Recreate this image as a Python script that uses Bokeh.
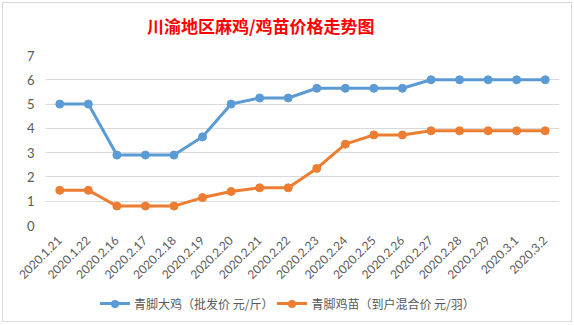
from bokeh.plotting import figure
from bokeh.models import ColumnDataSource, Div
from bokeh.layouts import column
from bokeh.embed import file_html
from bokeh.resources import INLINE
import math

dates = ["2020.1.21", "2020.1.22", "2020.2.16", "2020.2.17", "2020.2.18", "2020.2.19",
         "2020.2.20", "2020.2.21", "2020.2.22", "2020.2.23", "2020.2.24", "2020.2.25",
         "2020.2.26", "2020.2.27", "2020.2.28", "2020.2.29", "2020.3.1", "2020.3.2"]
big_chicken = [5.0, 5.0, 2.9, 2.9, 2.9, 3.65, 5.0, 5.25, 5.25, 5.65, 5.65, 5.65,
               5.65, 6.0, 6.0, 6.0, 6.0, 6.0]
chick = [1.45, 1.45, 0.8, 0.8, 0.8, 1.15, 1.4, 1.55, 1.55, 2.35, 3.35, 3.73,
         3.73, 3.9, 3.9, 3.9, 3.9, 3.9]
name1 = "青脚大鸡（批发价 元/斤）"
name2 = "青脚鸡苗（到户混合价 元/羽）"
title = "川渝地区麻鸡/鸡苗价格走势图"

BLUE = "#5B9BD5"
ORANGE = "#ED7D31"
GRAY = "#595959"

src = ColumnDataSource(dict(x=dates, a=big_chicken, b=chick))

head = Div(text=(f'<div style="padding-left:144px;padding-top:11px;line-height:24px;white-space:nowrap;'
                 f'color:#FF0000;font-family:\'Noto Sans CJK SC\';font-weight:bold;font-size:17px">{title}</div>'),
           width=568, height=40, margin=0)

p = figure(x_range=dates, y_range=(0, 7), width=568, height=245,
           output_backend="svg", toolbar_location=None,
           min_border_left=42, min_border_right=12, min_border_top=12, min_border_bottom=63)

p.outline_line_color = None
p.xgrid.grid_line_color = None
p.ygrid.grid_line_color = "#D9D9D9"
p.ygrid.grid_line_width = 1
p.yaxis.ticker = [0, 1, 2, 3, 4, 5, 6, 7]

for ax in (p.xaxis, p.yaxis):
    ax.axis_line_color = None
    ax.major_tick_line_color = None
    ax.minor_tick_line_color = None
    ax.major_label_text_color = GRAY
    ax.major_label_text_font = "Lato"
    ax.major_label_text_font_size = "12px"
p.yaxis.major_label_text_font_size = "13px"
p.xaxis.major_label_orientation = math.pi / 4
p.xaxis.major_label_standoff = 7
p.yaxis.major_label_standoff = 5

p.line("x", "a", source=src, color=BLUE, line_width=3)
p.scatter("x", "a", source=src, color=BLUE, size=8)
p.line("x", "b", source=src, color=ORANGE, line_width=3)
p.scatter("x", "b", source=src, color=ORANGE, size=8)

def key(color, label):
    return (f'<span style="display:inline-flex;align-items:center;margin-right:4px">'
            f'<span style="position:relative;display:inline-block;width:30px;height:3px;background:{color};margin-right:4px">'
            f'<span style="position:absolute;left:11px;top:-2.5px;width:8px;height:8px;border-radius:50%;background:{color}"></span></span>'
            f'<span style="color:{GRAY};font-family:\'Noto Sans CJK SC\';font-size:12px">{label}</span></span>')

leg = Div(text=f'<div style="padding-left:97px;padding-top:5px;white-space:nowrap">{key(BLUE, name1)}{key(ORANGE, name2)}</div>',
          width=568, height=33, margin=0)

lay = column(head, p, leg, spacing=0)
lay.styles = {"margin-left": "2px", "margin-top": "2px", "border": "1px solid #d9d9d9"}

open("out.html", "w").write(file_html(lay, INLINE))
